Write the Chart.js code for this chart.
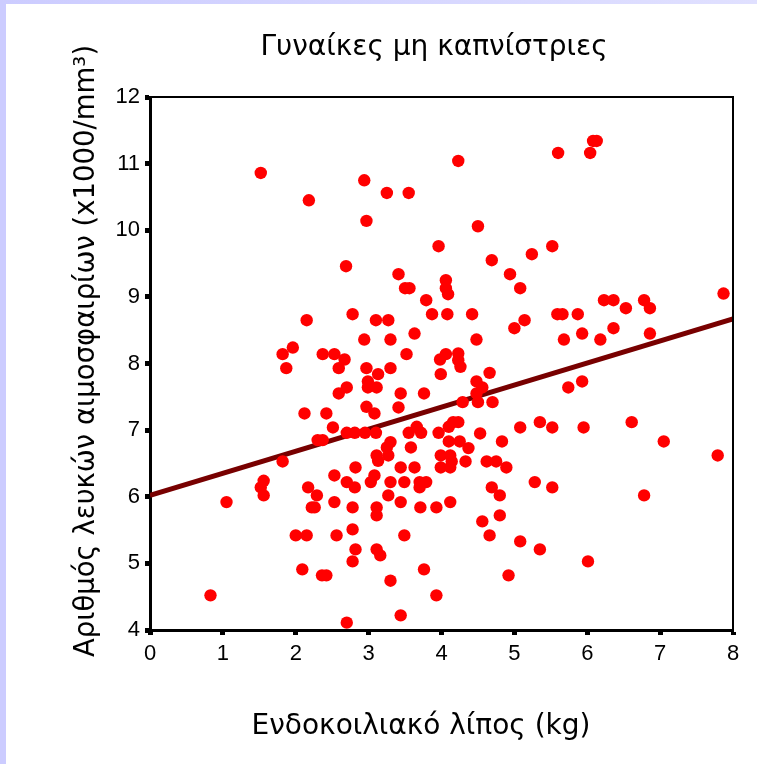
<!DOCTYPE html>
<html>
<head>
<meta charset="utf-8">
<script src="https://cdn.jsdelivr.net/npm/chart.js@4"></script>
<style>
  html, body { margin: 0; padding: 0; }
  body {
    width: 757px; height: 764px; position: relative; overflow: hidden;
    background: #ffffff;
  }
  /* lavender frame on the left and top edges */
  .edge-left { position: absolute; left: 0; top: 0; width: 6px; height: 764px; background: #ccccff; }
  .edge-top { position: absolute; left: 0; top: 0; width: 757px; height: 4px;
    background: linear-gradient(to right, #ccccff, #e0e0ff); }
  #chartBox { position: absolute; left: 6px; top: 4px; width: 751px; height: 760px; }
</style>
</head>
<body>
<div class="edge-left"></div>
<div class="edge-top"></div>
<div id="chartBox"><canvas id="myChart" width="751" height="760"></canvas></div>
<script>
// Visceral fat (kg) for each woman
const visceralFat = [
    1.52, 2.18, 2.94, 3.25, 3.55, 2.97, 3.96, 2.69, 3.41, 3.50,
    3.56, 4.06, 4.06, 4.09, 3.79, 3.87, 4.08, 2.78, 2.15, 3.10,
    3.27, 2.94, 3.30, 3.63, 1.82, 1.96, 2.37, 2.53, 2.67, 3.52,
    3.98, 4.06, 4.23, 5.60, 6.04, 6.08, 6.13, 4.50, 5.52, 4.69,
    5.24, 4.94, 5.08, 7.87, 4.42, 5.59, 5.66, 5.87, 5.00, 5.14,
    6.23, 6.36, 6.53, 6.78, 6.86, 4.48, 5.68, 5.93, 6.18, 6.36,
    6.86, 4.23, 4.23, 4.26, 4.66, 1.87, 2.59, 2.97, 3.13, 3.30,
    3.99, 2.99, 2.99, 3.11, 2.59, 2.70, 3.44, 3.76, 2.97, 3.08,
    3.41, 2.12, 2.42, 2.51, 2.70, 2.81, 2.95, 3.10, 3.55, 3.66,
    3.72, 3.96, 4.10, 4.10, 2.30, 2.37, 1.82, 3.25, 3.30, 3.27,
    3.11, 3.13, 3.58, 3.99, 4.12, 2.82, 3.44, 3.63, 3.99, 2.53,
    3.08, 3.03, 2.70, 2.81, 3.30, 3.49, 3.70, 3.79, 3.70, 1.56,
    1.52, 1.56, 2.17, 2.29, 3.27, 1.05, 2.53, 2.22, 2.26, 2.78,
    3.11, 3.11, 3.44, 3.71, 3.93, 4.12, 2.78, 2.00, 2.15, 2.56,
    3.49, 2.82, 3.11, 3.16, 2.78, 2.09, 2.36, 2.42, 3.76, 3.30,
    0.83, 3.93, 3.44, 2.70, 4.48, 4.56, 4.48, 5.74, 5.93, 4.29,
    4.50, 4.70, 4.16, 4.23, 4.53, 5.08, 5.35, 5.52, 5.95, 6.61,
    7.05, 7.79, 4.25, 4.37, 4.83, 4.14, 4.12, 4.33, 4.62, 4.75,
    4.89, 5.28, 5.52, 4.69, 4.80, 6.78, 4.80, 4.56, 4.66, 5.08,
    5.35, 6.01, 4.92
];

// White blood cell count (x1000/mm3), same order as visceralFat
const whiteCells = [
    10.86, 10.45, 10.75, 10.56, 10.56, 10.14, 9.76, 9.46, 9.34, 9.13,
    9.13, 9.25, 9.13, 9.04, 8.95, 8.74, 8.74, 8.74, 8.65, 8.65,
    8.65, 8.36, 8.36, 8.45, 8.14, 8.24, 8.14, 8.14, 8.06, 8.14,
    8.06, 8.14, 11.04, 11.16, 11.16, 11.34, 11.34, 10.06, 9.76, 9.55,
    9.64, 9.34, 9.13, 9.05, 8.74, 8.74, 8.74, 8.74, 8.53, 8.65,
    8.95, 8.95, 8.83, 8.95, 8.83, 8.36, 8.36, 8.45, 8.36, 8.53,
    8.45, 8.15, 8.05, 7.95, 7.86, 7.93, 7.93, 7.93, 7.84, 7.93,
    7.84, 7.73, 7.64, 7.64, 7.55, 7.64, 7.55, 7.55, 7.35, 7.25,
    7.34, 7.25, 7.25, 7.04, 6.96, 6.96, 6.96, 6.96, 6.96, 7.05,
    6.96, 6.96, 7.05, 6.83, 6.85, 6.85, 6.53, 6.74, 6.82, 6.62,
    6.62, 6.54, 6.74, 6.62, 6.62, 6.44, 6.44, 6.44, 6.44, 6.32,
    6.32, 6.22, 6.22, 6.14, 6.22, 6.22, 6.22, 6.22, 6.14, 6.24,
    6.14, 6.02, 6.14, 6.02, 6.02, 5.92, 5.92, 5.84, 5.84, 5.84,
    5.84, 5.72, 5.92, 5.84, 5.84, 5.92, 5.51, 5.42, 5.42, 5.42,
    5.42, 5.21, 5.21, 5.12, 5.03, 4.91, 4.82, 4.82, 4.91, 4.74,
    4.52, 4.52, 4.22, 4.11, 7.73, 7.64, 7.55, 7.64, 7.73, 7.42,
    7.42, 7.42, 7.12, 7.12, 6.95, 7.04, 7.12, 7.04, 7.04, 7.12,
    6.83, 6.62, 6.83, 6.73, 6.83, 6.53, 6.44, 6.53, 6.53, 6.53,
    6.44, 6.22, 6.14, 6.14, 6.02, 6.02, 5.72, 5.63, 5.42, 5.33,
    5.21, 5.03, 4.82
];

// Regression line end points
const fitX = [0, 8];
const fitY = [6.02, 8.67];

// Axis ranges and labels
const xTicks = [0, 1, 2, 3, 4, 5, 6, 7, 8];
const yTicks = [4, 5, 6, 7, 8, 9, 10, 11, 12];
const chartTitle = 'Γυναίκες μη καπνίστριες';
const xTitle = 'Ενδοκοιλιακό λίπος (kg)';
const yTitle = 'Αριθμός λευκών αιμοσφαιρίων (x1000/mm³)';

const titleFont = '"DejaVu Sans", sans-serif';
const tickFont = '"Liberation Sans", Arial, sans-serif';

const scatterPoints = visceralFat.map((x, i) => ({ x: x, y: whiteCells[i] }));
const fitPoints = fitX.map((x, i) => ({ x: x, y: fitY[i] }));

// Thin top/right frame lines plus the chart and axis titles
const frameAndTitles = {
    id: 'frameAndTitles',
    afterDraw(chart) {
        const ctx = chart.ctx;
        const a = chart.chartArea;
        ctx.save();
        ctx.strokeStyle = '#000';
        ctx.lineWidth = 2;
        ctx.beginPath();
        ctx.moveTo(a.left, a.top);
        ctx.lineTo(a.right, a.top);
        ctx.lineTo(a.right, a.bottom);
        ctx.stroke();

        ctx.fillStyle = '#000';
        ctx.textAlign = 'center';
        ctx.textBaseline = 'middle';
        ctx.font = '28px ' + titleFont;
        ctx.fillText(chartTitle, a.left + 284, a.top - 49);
        ctx.fillText(xTitle, a.left + 271, a.bottom + 97);

        ctx.font = '27.5px ' + titleFont;
        ctx.translate(a.left - 63, a.top + 254);
        ctx.rotate(-Math.PI / 2);
        ctx.fillText(yTitle, 0, 0);
        ctx.restore();
    }
};

const ctx = document.getElementById('myChart').getContext('2d');
const myChart = new Chart(ctx, {
    type: 'scatter',
    data: {
        datasets: [{
            label: 'Τιμές',
            data: scatterPoints,
            backgroundColor: '#ff0000',
            borderColor: '#ff0000',
            borderWidth: 0,
            pointRadius: 6.2,
            order: 1
        }, {
            type: 'line',
            label: 'Γραμμή τάσης',
            data: fitPoints,
            borderColor: '#780000',
            borderWidth: 5,
            pointRadius: 0,
            fill: false,
            order: 2
        }]
    },
    options: {
        responsive: false,
        animation: false,
        layout: { padding: { top: 93, right: 24, bottom: 0, left: 0 } },
        plugins: {
            legend: { display: false },
            tooltip: { enabled: false },
            title: { display: false }
        },
        scales: {
            x: {
                type: 'linear',
                min: xTicks[0],
                max: xTicks[xTicks.length - 1],
                afterBuildTicks: (scale) => { scale.ticks = xTicks.map(v => ({ value: v })); },
                afterFit: (scale) => { scale.height = 134; },
                ticks: {
                    color: '#000',
                    padding: 6,
                    font: { family: tickFont, size: 22 }
                },
                grid: {
                    drawOnChartArea: false,
                    drawTicks: true,
                    tickLength: 5,
                    tickWidth: 5,
                    tickColor: '#000'
                },
                border: { color: '#000', width: 3 }
            },
            y: {
                type: 'linear',
                min: yTicks[0],
                max: yTicks[yTicks.length - 1],
                afterBuildTicks: (scale) => { scale.ticks = yTicks.map(v => ({ value: v })); },
                afterFit: (scale) => { scale.width = 144; },
                ticks: {
                    color: '#000',
                    padding: 5,
                    font: { family: tickFont, size: 22 }
                },
                grid: {
                    drawOnChartArea: false,
                    drawTicks: true,
                    tickLength: 5,
                    tickWidth: 5,
                    tickColor: '#000'
                },
                border: { color: '#000', width: 3 }
            }
        }
    },
    plugins: [frameAndTitles]
});
</script>
</body>
</html>
